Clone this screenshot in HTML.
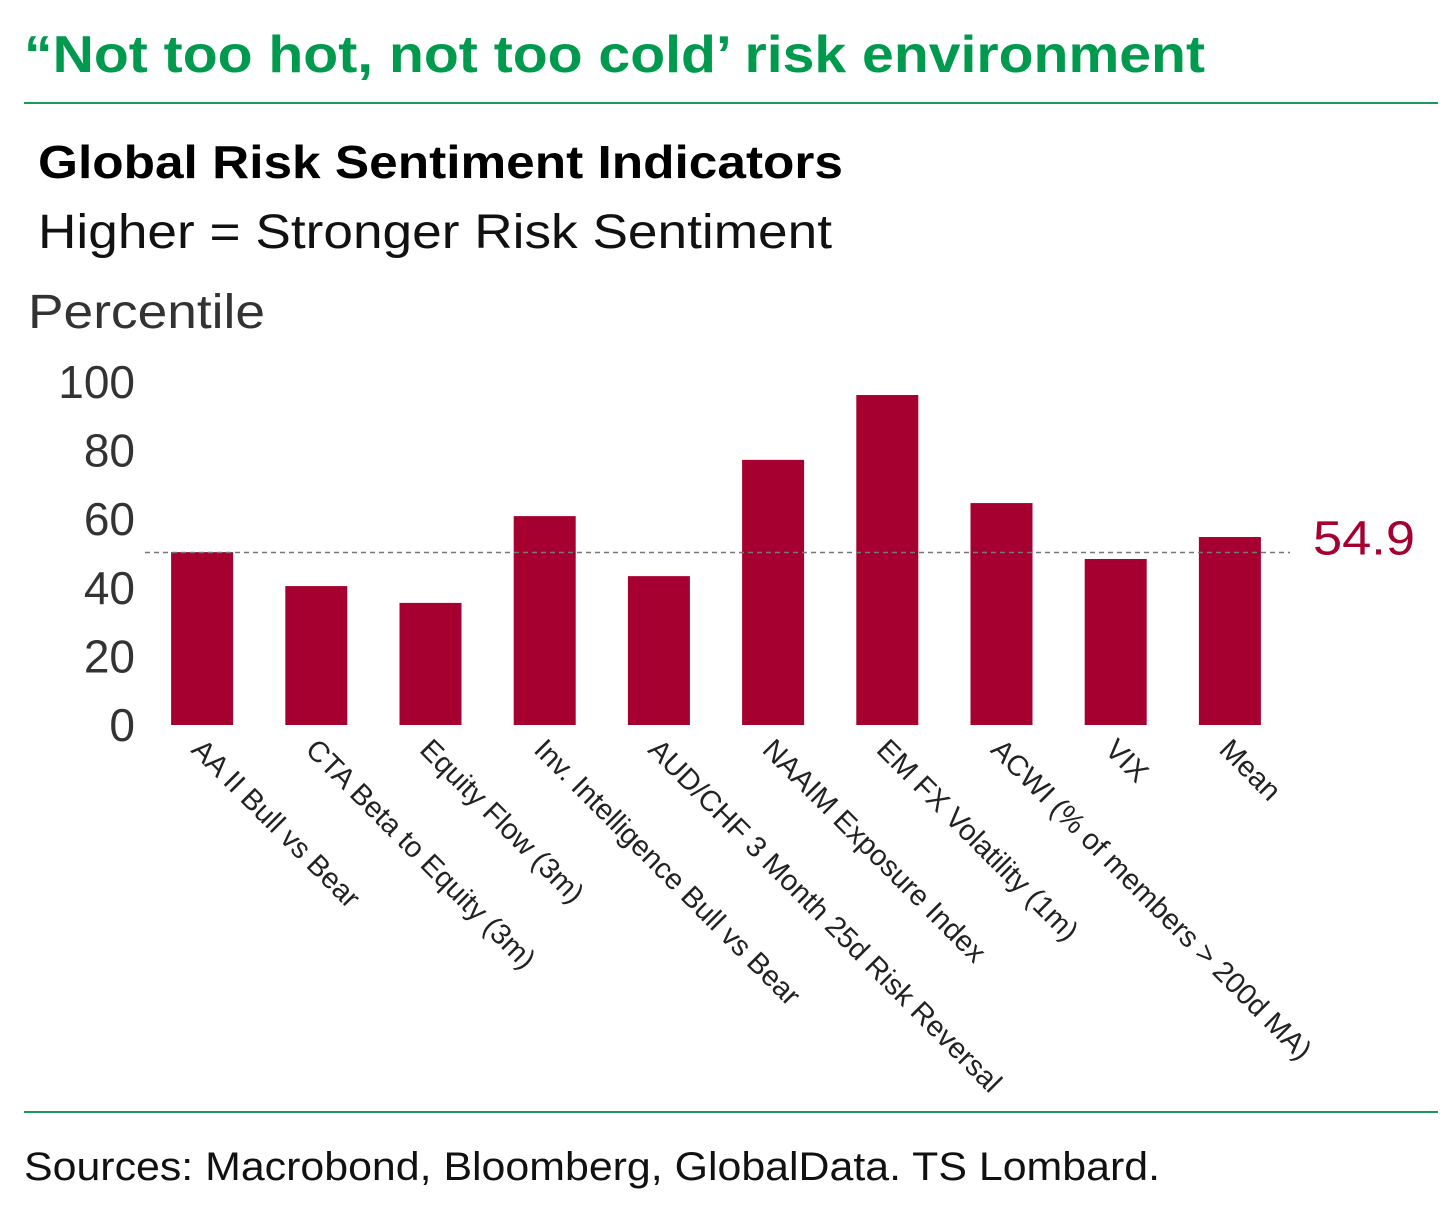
<!DOCTYPE html>
<html><head><meta charset="utf-8"><style>
body{margin:0;background:#fff;width:1456px;height:1207px;overflow:hidden;font-family:"Liberation Sans",sans-serif}
</style></head><body>
<svg width="1456" height="1207">
<text x="24" y="72" font-size="52" font-weight="bold" fill="#009a4e" textLength="1181" lengthAdjust="spacingAndGlyphs">“Not too hot, not too cold’ risk environment</text>
<rect x="24" y="102" width="1414" height="2" fill="#1a9a5a"/>
<text x="38" y="178" font-size="46" font-weight="bold" fill="#000" textLength="805" lengthAdjust="spacingAndGlyphs">Global Risk Sentiment Indicators</text>
<text x="38" y="248" font-size="48" fill="#111" textLength="794" lengthAdjust="spacingAndGlyphs">Higher = Stronger Risk Sentiment</text>
<text x="28" y="328" font-size="48" fill="#333" textLength="237" lengthAdjust="spacingAndGlyphs">Percentile</text>
<g id="plot"></g>
<rect x="24" y="1111" width="1414" height="2" fill="#1a9a5a"/>
<text x="24" y="1180" font-size="40" fill="#111" textLength="1136" lengthAdjust="spacingAndGlyphs">Sources: Macrobond, Bloomberg, GlobalData. TS Lombard.</text>
</svg>
<script>
const categories=["AA II Bull vs Bear","CTA Beta to Equity (3m)","Equity Flow (3m)","Inv. Intelligence Bull vs Bear","AUD/CHF 3 Month 25d Risk Reversal","NAAIM Exposure Index","EM FX Volatility (1m)","ACWI (% of members > 200d MA)","VIX","Mean"];
const values=[50.4,40.5,35.6,60.9,43.4,77.3,96.2,64.7,48.4,54.8];
const yTicks=[0,20,40,60,80,100];
const refLine=50.3;
const refLabel="54.9";
const NS="http://www.w3.org/2000/svg";
const g=document.getElementById('plot');
const y0=725,yScale=3.43,x0=145,band=114.2,bw=62;
const y=v=>y0-v*yScale;
const xc=i=>x0+band*i+band/2;
function mk(t,a){const e=document.createElementNS(NS,t);for(const k in a)e.setAttribute(k,a[k]);g.appendChild(e);return e;}
yTicks.forEach(t=>{const e=mk('text',{x:135,y:y(t)+16,'font-size':46,'text-anchor':'end',fill:'#333'});e.textContent=t;

});
values.forEach((v,i)=>{const r=mk('rect',{x:xc(i)-bw/2,y:y(v),width:bw,height:v*yScale,fill:'#a50030'});


const lx=xc(i)+2,ly=y0+12;
const t=mk('text',{x:lx,y:ly,'font-size':29,fill:'#222',transform:`rotate(45 ${lx} ${ly})`,'dominant-baseline':'hanging'});t.textContent=categories[i];

});
const l=mk('line',{x1:145,x2:1290,y1:y(refLine),y2:y(refLine),stroke:'#777','stroke-width':1.5,'stroke-dasharray':'5,4'});


const lt=mk('text',{x:1313,y:y(refLine)+2,'font-size':48,fill:'#a50030',textLength:102,lengthAdjust:'spacingAndGlyphs'});lt.textContent=refLabel;


</script>
</body></html>
